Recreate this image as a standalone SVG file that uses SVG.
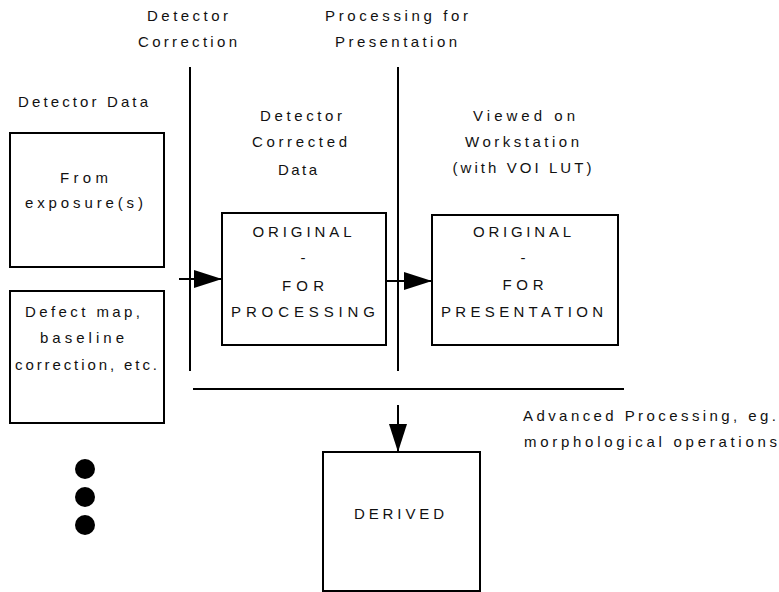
<svg xmlns="http://www.w3.org/2000/svg" width="779" height="592" viewBox="0 0 779 592">
  <style>
    text { font-family: "Liberation Sans", Arial, sans-serif; font-size: 15px; fill: #111; }
    .c { text-anchor: middle; }
    .box { fill: #fff; stroke: #000; stroke-width: 2; }
    .ln { stroke: #000; stroke-width: 2; fill: none; }
  </style>
  <defs>
    <marker id="ah" markerWidth="28" markerHeight="18" refX="28" refY="9" orient="auto" markerUnits="userSpaceOnUse">
      <path d="M0,0 L28,9 L0,18 z" fill="#000"/>
    </marker>
  </defs>
  <rect width="779" height="592" fill="#fff"/>

  <g id="labels">
    <text class="c" x="187.5" y="21" textLength="81" lengthAdjust="spacing">Detector</text>
    <text class="c" x="187.5" y="47" textLength="99" lengthAdjust="spacing">Correction</text>
    <text class="c" x="396.5" y="21" textLength="143" lengthAdjust="spacing">Processing for</text>
    <text class="c" x="396" y="47" textLength="122" lengthAdjust="spacing">Presentation</text>
    <text class="c" x="83" y="107" textLength="130" lengthAdjust="spacing">Detector Data</text>
    <text class="c" x="301" y="121" textLength="82" lengthAdjust="spacing">Detector</text>
    <text class="c" x="299.5" y="147" textLength="95" lengthAdjust="spacing">Corrected</text>
    <text class="c" x="297.5" y="175" textLength="39" lengthAdjust="spacing">Data</text>
    <text class="c" x="524" y="121" textLength="102" lengthAdjust="spacing">Viewed on</text>
    <text class="c" x="522" y="147" textLength="114" lengthAdjust="spacing">Workstation</text>
    <text class="c" x="522" y="173" textLength="139" lengthAdjust="spacing">(with VOI LUT)</text>
    <text x="523" y="421" textLength="253" lengthAdjust="spacing">Advanced Processing, eg.</text>
    <text x="524" y="447" textLength="253" lengthAdjust="spacing">morphological operations</text>
  </g>

  <g id="dividers">
    <line class="ln" x1="190" y1="67" x2="190" y2="371"/>
    <line class="ln" x1="398" y1="67" x2="398" y2="371"/>
    <line class="ln" x1="193" y1="389" x2="624" y2="389"/>
  </g>

  <g id="exposure">
    <rect class="box" x="10" y="133" width="154" height="134"/>
    <text class="c" x="84" y="183" textLength="48" lengthAdjust="spacing">From</text>
    <text class="c" x="84" y="208" textLength="118" lengthAdjust="spacing">exposure(s)</text>
  </g>

  <g id="defect">
    <rect class="box" x="10" y="291" width="154" height="132"/>
    <text class="c" x="82.5" y="317" textLength="115" lengthAdjust="spacing">Defect map,</text>
    <text class="c" x="82" y="343" textLength="84" lengthAdjust="spacing">baseline</text>
    <text class="c" x="86" y="370" textLength="142" lengthAdjust="spacing">correction, etc.</text>
  </g>

  <g id="more">
    <circle cx="85" cy="469" r="10" fill="#000"/>
    <circle cx="85" cy="497" r="10" fill="#000"/>
    <circle cx="85" cy="525" r="10" fill="#000"/>
  </g>

  <g id="for-processing">
    <rect class="box" x="222" y="213" width="164" height="132"/>
    <text class="c" x="302" y="237" textLength="99" lengthAdjust="spacing">ORIGINAL</text>
    <text class="c" x="303" y="263">-</text>
    <text class="c" x="303" y="291" textLength="42" lengthAdjust="spacing">FOR</text>
    <text class="c" x="303" y="317" textLength="144" lengthAdjust="spacing">PROCESSING</text>
  </g>

  <g id="for-presentation">
    <rect class="box" x="432" y="215" width="186" height="130"/>
    <text class="c" x="522" y="237" textLength="98" lengthAdjust="spacing">ORIGINAL</text>
    <text class="c" x="523" y="263">-</text>
    <text class="c" x="523" y="290" textLength="41" lengthAdjust="spacing">FOR</text>
    <text class="c" x="522" y="317" textLength="162" lengthAdjust="spacing">PRESENTATION</text>
  </g>

  <g id="derived">
    <rect class="box" x="323" y="452" width="157" height="139"/>
    <text class="c" x="399" y="519" textLength="90" lengthAdjust="spacing">DERIVED</text>
  </g>

  <g id="connectors">
    <line class="ln" x1="179" y1="279" x2="222" y2="279" marker-end="url(#ah)"/>
    <line class="ln" x1="386" y1="281" x2="432" y2="281" marker-end="url(#ah)"/>
    <line class="ln" x1="398" y1="405" x2="398" y2="452" marker-end="url(#ah)"/>
  </g>
</svg>
